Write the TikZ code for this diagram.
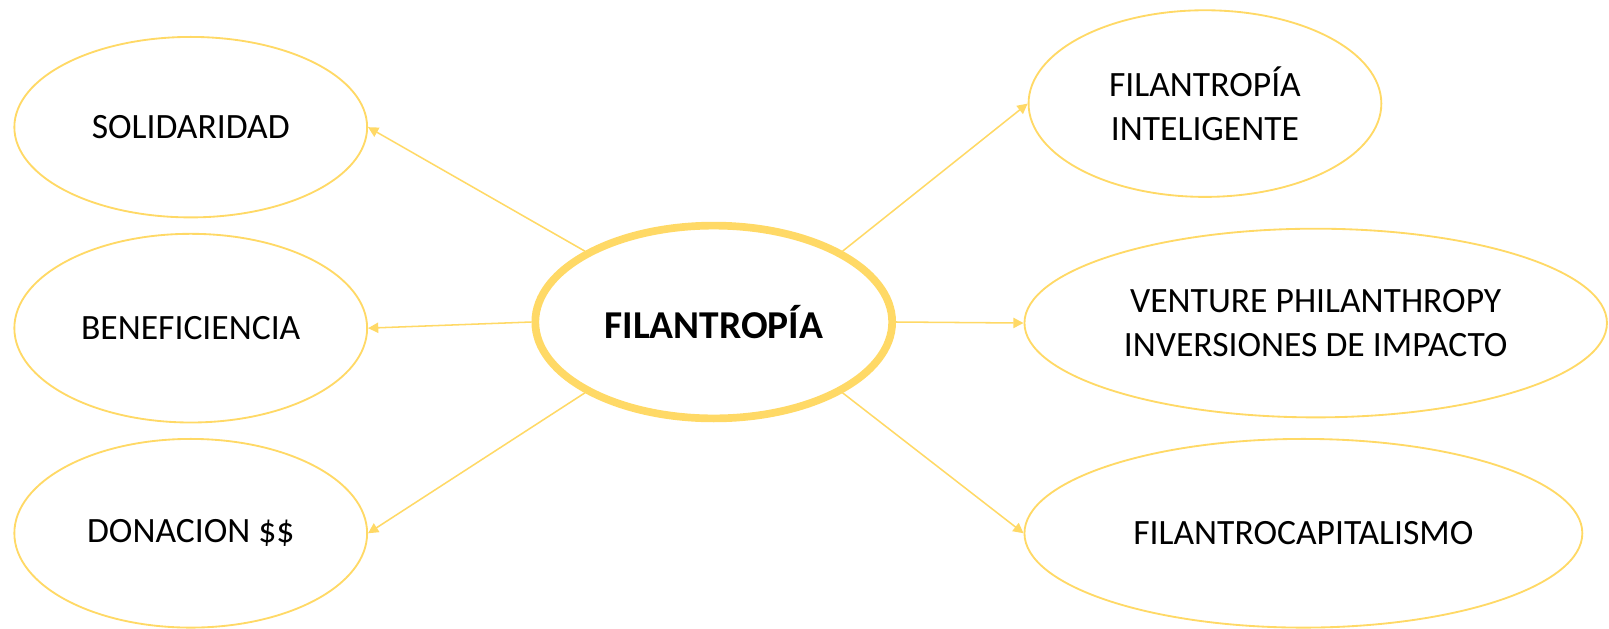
\documentclass[tikz,border=0pt]{standalone}
\usepackage{fontspec}
\setmainfont{Carlito}
\usetikzlibrary{shapes.geometric,arrows.meta}
\definecolor{gold}{HTML}{FFD966}
\tikzset{
  bubble/.style={ellipse,draw=gold,line width=1.8pt,inner sep=0pt,align=center,
    font=\fontsize{34.7}{43}\selectfont,text=black},
  hub/.style={ellipse,draw=gold,line width=7.5pt,inner sep=0pt,align=center,
    font=\fontsize{38.5}{44}\selectfont\bfseries,text=black},
  link/.style={draw=gold,line width=1.5pt,-{Triangle[length=10pt,width=10pt]}}
}
\begin{document}
\begin{tikzpicture}[x=1pt,y=-1pt]
\useasboundingbox (0,0) rectangle (1569,613.3);
\node[hub,minimum width=348pt,minimum height=188pt] (c) at (696,314) {FILANTROPÍA};
\node[bubble,minimum width=344pt,minimum height=176pt] (s) at (186,124) {SOLIDARIDAD};
\node[bubble,minimum width=344pt,minimum height=184pt] (b) at (186,320) {BENEFICIENCIA};
\node[bubble,minimum width=344pt,minimum height=184pt] (d) at (186,520) {DONACION \$\$};
\node[bubble,minimum width=344pt,minimum height=182pt] (i) at (1175,101) {FILANTROPÍA\\INTELIGENTE};
\node[bubble,minimum width=568pt,minimum height=184pt] (v) at (1283,315) {VENTURE PHILANTHROPY\\INVERSIONES DE IMPACTO};
\node[bubble,minimum width=544pt,minimum height=184pt] (f) at (1271,520) {FILANTROCAPITALISMO};
\draw[link] (c.north west) -- (s.east);
\draw[link] (c.west) -- (b.east);
\draw[link] (c.south west) -- (d.east);
\draw[link] (c.north east) -- (i.west);
\draw[link] (c.east) -- (v.west);
\draw[link] (c.south east) -- (f.west);
\end{tikzpicture}
\end{document}
